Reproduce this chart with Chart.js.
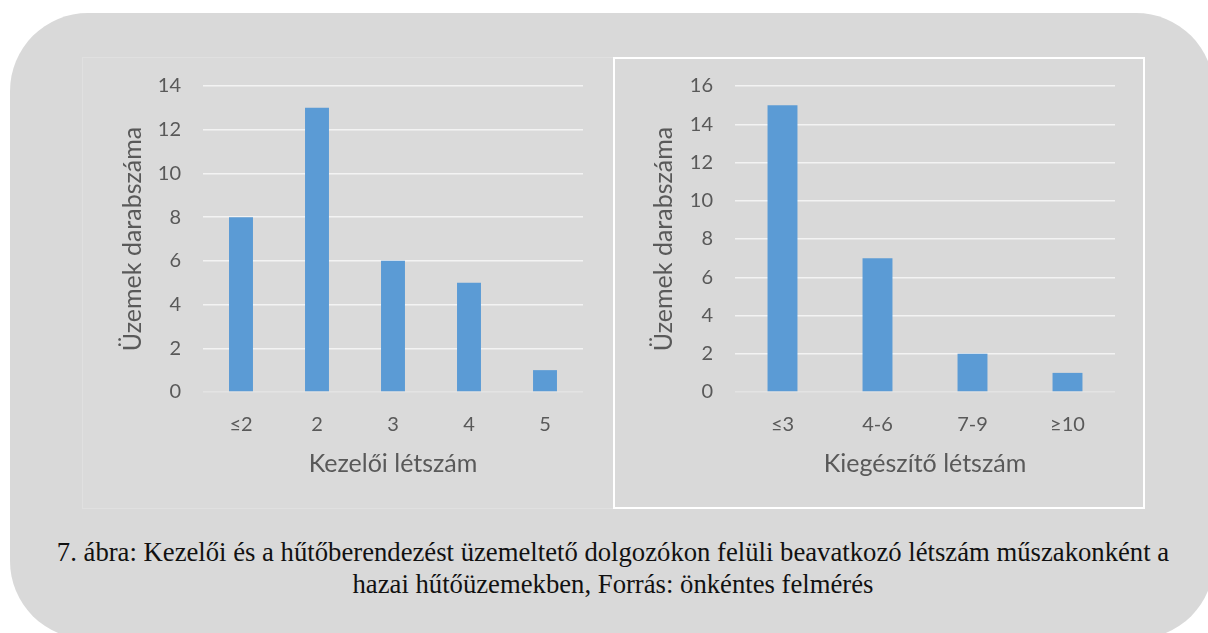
<!DOCTYPE html>
<html lang="hu">
<head>
<meta charset="utf-8">
<script src="https://cdn.jsdelivr.net/npm/chart.js@4"></script>
<style>
  html, body { margin:0; padding:0; background:#fff; width:1208px; height:633px; overflow:hidden; }
  #bg { position:absolute; left:10px; top:13px; width:1204px; height:626px; background:#d9d9d9; border-radius:78px; }
  .panel { position:absolute; top:57px; height:452px; box-sizing:border-box; }
  #pLeft  { left:82px;  width:531px; border:1px solid #e0e0e0; border-right:none; background:#dadada; }
  #pRight { left:613px; width:532px; border:2px solid #fff; }
  canvas { position:absolute; }
  #cLeft  { left:82px;  top:57px; }
  #cRight { left:613px; top:57px; }
  #caption { position:absolute; left:0; top:536px; width:1226px; text-align:center;
             font-family:"Liberation Serif","Times New Roman",serif; font-size:26.7px; line-height:32px; color:#111; }
</style>
</head>
<body>
<div id="bg"></div>
<div class="panel" id="pLeft"></div>
<div class="panel" id="pRight"></div>
<canvas id="cLeft" width="531" height="452"></canvas>
<canvas id="cRight" width="531" height="452"></canvas>
<div id="caption">7. ábra: Kezelői és a hűtőberendezést üzemeltető dolgozókon felüli beavatkozó létszám műszakonként a<br>hazai hűtőüzemekben, Forrás: önkéntes felmérés</div>

<script>
/* ── adatok ── */
const kezeloiCimkek  = ['≤2', '2', '3', '4', '5'];
const kezeloiUzemek  = [8, 13, 6, 5, 1];
const kiegCimkek     = ['≤3', '4-6', '7-9', '≥10'];
const kiegUzemek     = [15, 7, 2, 1];
const kezeloiMax = 14;
const kiegMax    = 16;
const yCim = 'Üzemek darabszáma';

const SZIN  = '#5b9bd5';
const SZOVEG = '#595959';

function oszlopDiagram(id, cimkek, ertekek, yMax, xCim, yW, jobbPad) {
  return new Chart(document.getElementById(id), {
    type: 'bar',
    data: { labels: cimkek, datasets: [{ data: ertekek, backgroundColor: SZIN, barPercentage: 0.315, categoryPercentage: 1 }] },
    options: {
      responsive: false, animation: false,
      layout: { padding: { top: 29, right: jobbPad, left: 0, bottom: 0 } },
      plugins: { legend: { display: false }, tooltip: { enabled: false } },
      scales: {
        x: {
          grid: { display: false }, border: { display: false },
          ticks: { color: SZOVEG, font: { family: 'Lato', size: 20 }, padding: 13 },
          title: { display: true, text: xCim, color: SZOVEG, font: { family: 'Lato', size: 25 }, padding: { top: 0, bottom: 30 } },
          afterFit: s => { s.height = 117; s.paddingLeft = 0; s.paddingRight = 0; }
        },
        y: {
          min: 0, max: yMax,
          border: { display: false },
          grid: { drawTicks: false, lineWidth: 1.5, color: c => c.tick && c.tick.value === 0 ? '#e3e3e3' : '#f3f3f3' },
          ticks: { stepSize: 2, color: SZOVEG, font: { family: 'Lato', size: 20 }, padding: 22 },
          title: { display: true, text: yCim, color: SZOVEG, font: { family: 'Lato', size: 25 }, padding: { top: 36, bottom: 0 } },
          afterFit: s => { s.width = yW; s.paddingTop = 0; s.paddingBottom = 0; }
        }
      }
    }
  });
}

oszlopDiagram('cLeft',  kezeloiCimkek, kezeloiUzemek, kezeloiMax, 'Kezelői létszám',     121, 30);
oszlopDiagram('cRight', kiegCimkek,    kiegUzemek,    kiegMax,    'Kiegészítő létszám', 122, 29);
</script>
</body>
</html>
